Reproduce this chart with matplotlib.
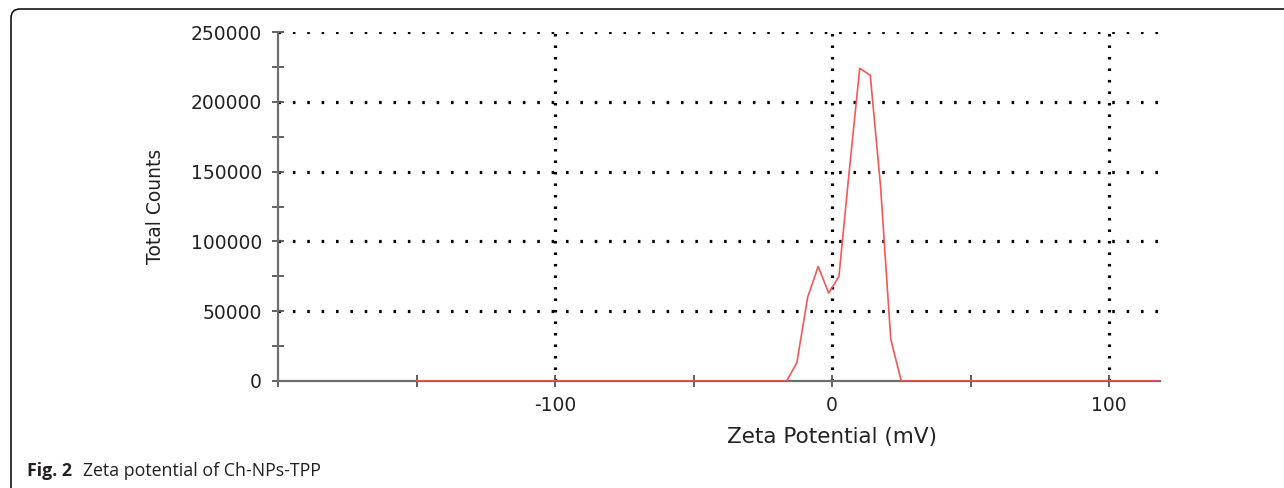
import numpy as np
import matplotlib
matplotlib.use("Agg")
import matplotlib.pyplot as plt
from matplotlib.patches import FancyBboxPatch
from matplotlib.transforms import IdentityTransform
from matplotlib.ticker import MultipleLocator

# Zeta potential distribution
zeta_mv = [-150, -20, -16.4, -12.7, -8.8, -5.0, -1.2, 2.5, 6.2, 10.0, 13.8,
           17.5, 21.2, 25.0, 28.8, 120]
total_counts = [0, 0, 0, 13000, 60000, 82000, 63000, 75000, 150000, 224000,
                219000, 140000, 30000, 0, 0, 0]

x_ticks = [-100, 0, 100]
y_ticks = [0, 50000, 100000, 150000, 200000, 250000]

plt.rcParams['font.family'] = ['DejaVu Sans']
plt.rcParams['axes.unicode_minus'] = False

fig = plt.figure(figsize=(12.84, 4.88), dpi=100)
W, H = 1284, 488
ax = fig.add_axes([278 / W, 1 - 381 / H, (1160 - 278) / W, (381 - 32) / H])

ax.plot(zeta_mv, total_counts, color='#f25858', lw=1.2, zorder=3)

ax.set_xlim(-200, 118.4)
ax.set_ylim(0, 250000)
ax.set_xticks(x_ticks)
ax.set_yticks(y_ticks)
ax.xaxis.set_minor_locator(MultipleLocator(50))
ax.yaxis.set_minor_locator(MultipleLocator(25000))

ax.spines['top'].set_visible(False)
ax.spines['right'].set_visible(False)
for s in ['left', 'bottom']:
    ax.spines[s].set_color('#6e6e6e')
    ax.spines[s].set_linewidth(1.6)
    ax.spines[s].set_zorder(2)

ax.tick_params(which='both', direction='inout', color='#555555', width=1.3,
               labelcolor='#222222', labelsize=13.5)
ax.tick_params(which='major', length=9)
ax.tick_params(which='minor', length=9)
ax.tick_params(axis='x', pad=6)
ax.tick_params(axis='y', pad=7)

# dotted grid
for yv in y_ticks[1:]:
    ax.axhline(yv, color='black', lw=2.3, ls=(0, (0.8, 3.7)), zorder=1)
for xv in x_ticks:
    ax.axvline(xv, color='black', lw=2.3, ls=(0, (0.8, 2.8)), zorder=1)

ax.set_xlabel('Zeta Potential (mV)', fontsize=15.5, color='#222222')
ax.set_ylabel('Total Counts', fontsize=13.5, color='#222222')
ax.xaxis.set_label_coords((832 - 278) / 882, -(427 - 381) / 349)
ax.yaxis.set_label_coords(-(278 - 165) / 882, 0.5)

# open frame with rounded top-left corner
frame = FancyBboxPatch((11, -20), 1300, (H - 9) + 20,
                       boxstyle='round,pad=0,rounding_size=9',
                       transform=IdentityTransform(), fill=False,
                       edgecolor='black', lw=1.1)
fig.add_artist(frame)

fig.text(27 / W, 1 - 476 / H, 'Fig. 2', fontsize=12.8, fontweight='bold',
         family=['Open Sans', 'DejaVu Sans'], va='baseline', color='#231f20')
fig.text(83 / W, 1 - 476 / H, 'Zeta potential of Ch-NPs-TPP', fontsize=12.8,
         family=['Open Sans', 'DejaVu Sans'], va='baseline', color='#231f20')

fig.savefig('out.png', dpi=100)
